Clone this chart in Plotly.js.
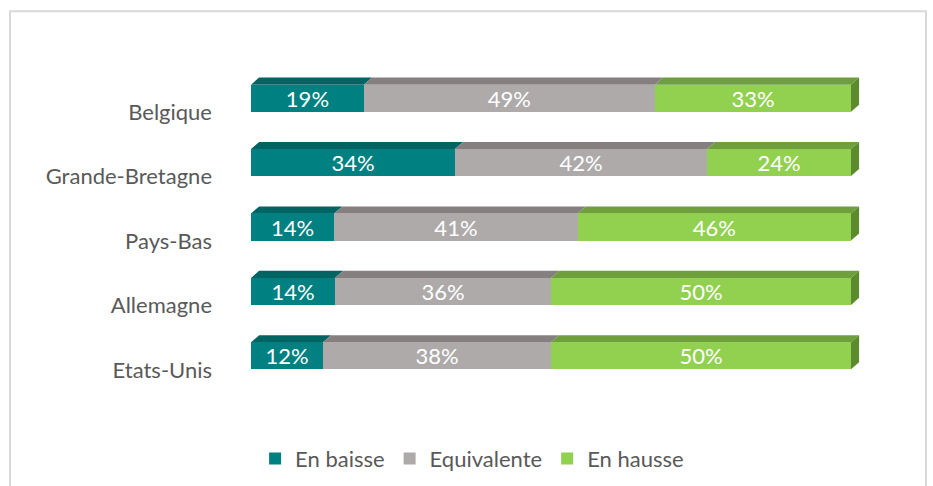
<!DOCTYPE html>
<html>
<head>
<meta charset="utf-8">
<script src="https://cdn.plot.ly/plotly-3.0.1.min.js"></script>
<style>
html,body{margin:0;padding:0;background:#fff;}
#chart{width:933px;height:486px;}
</style>
</head>
<body>
<div id="chart"></div>
<script>
// Data
var categories = ["Belgique", "Grande-Bretagne", "Pays-Bas", "Allemagne", "Etats-Unis"];
var seriesNames = ["En baisse", "Equivalente", "En hausse"];
var enBaisse    = [19, 34, 14, 14, 12];
var equivalente = [49, 42, 41, 36, 38];
var enHausse    = [33, 24, 46, 50, 50];

var frontColors = ["#008080", "#AEAAAA", "#92D050"];
var topColors   = ["#006462", "#85807F", "#6F9E3C"];
var sideColors  = ["#005350", "#726e6d", "#5E8A2E"];

var series = [enBaisse, equivalente, enHausse];
var yPos = categories.map(function (c, i) { return i; });
var labelOffset = 0.22;  // 3D axis labels sit below bar front faces
var barWidth = 0.42;
var dx = 1.35;   // depth in x data units
var dy = 0.11;   // depth in category units

var traces = series.map(function (vals, s) {
  return {
    type: "bar",
    orientation: "h",
    name: seriesNames[s],
    y: yPos,
    x: vals,
    width: barWidth,
    text: vals.map(function (v) { return v + "%"; }),
    textposition: "inside",
    insidetextanchor: "middle",
    constraintext: "none",
    textfont: {color: "#ffffff", size: 22, family: "Lato, 'Open Sans', sans-serif"},
    marker: {color: frontColors[s], line: {width: 0}},
    hoverinfo: "skip"
  };
});

// 3D faces computed from normalized data
var shapes = [];
categories.forEach(function (c, i) {
  var total = 0;
  series.forEach(function (vals) { total += vals[i]; });
  var cum = 0;
  var yTop = i - barWidth / 2, yBot = i + barWidth / 2;
  series.forEach(function (vals, s) {
    var x0 = cum / total * 100;
    cum += vals[i];
    var x1 = cum / total * 100;
    shapes.push({
      type: "path", xref: "x", yref: "y", layer: "below",
      path: "M" + x0 + "," + yTop + " L" + x1 + "," + yTop + " L" + (x1 + dx) + "," + (yTop - dy) +
            " L" + (x0 + dx) + "," + (yTop - dy) + " Z",
      fillcolor: topColors[s], line: {width: 0}
    });
    if (s === series.length - 1) {
      shapes.push({
        type: "path", xref: "x", yref: "y", layer: "below",
        path: "M" + x1 + "," + yTop + " L" + (x1 + dx) + "," + (yTop - dy) + " L" + (x1 + dx) + "," + (yBot - dy) +
              " L" + x1 + "," + yBot + " Z",
        fillcolor: sideColors[s], line: {width: 0}
      });
    }
  });
});

// outer border
shapes.push({
  type: "rect", xref: "paper", yref: "paper", layer: "below",
  x0: -0.3957, x1: 1.1084, y0: -0.4, y1: 1.1698,
  line: {color: "#D9D9D9", width: 2}, fillcolor: "rgba(0,0,0,0)"
});

var layout = {
  width: 933, height: 486,
  margin: {l: 251, r: 73, t: 66, b: 98},
  paper_bgcolor: "#ffffff", plot_bgcolor: "rgba(0,0,0,0)",
  barmode: "stack",
  barnorm: "percent",
  font: {family: "Lato, 'Open Sans', sans-serif", color: "#595959", size: 22},
  xaxis: {range: [0, 101.5], showgrid: false, zeroline: false, showticklabels: false, showline: false, fixedrange: true},
  yaxis: {
    range: [4.5, -0.5],
    tickmode: "array",
    tickvals: yPos.map(function (p) { return p + labelOffset; }),
    ticktext: categories,
    showgrid: false, zeroline: false, showline: false,
    ticks: "", ticklabelstandoff: 38,
    tickfont: {size: 22, color: "#595959"}
  },
  showlegend: true,
  legend: {
    orientation: "h", xref: "container", yref: "container",
    x: 0.506, xanchor: "center", y: 0.056, yanchor: "middle",
    font: {size: 22, color: "#595959"},
    traceorder: "normal", itemwidth: 30
  },
  shapes: shapes
};

Plotly.newPlot("chart", traces, layout, {displayModeBar: false, staticPlot: true});
</script>
</body>
</html>
